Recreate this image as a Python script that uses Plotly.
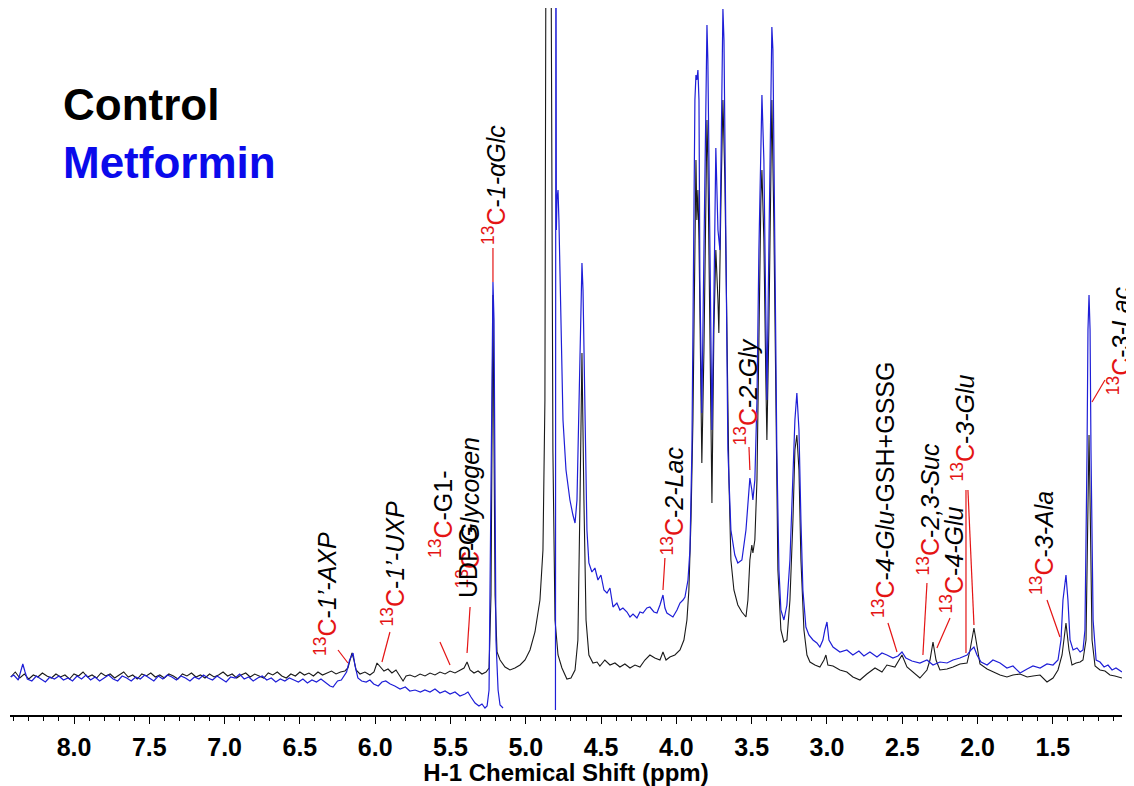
import plotly.graph_objects as go

# 1H NMR spectra, chemical shift (ppm) and intensity (a.u.)
CONTROL_PPM = [
    8.42, 8.39, 8.36, 8.33, 8.30, 8.27, 8.24, 8.21, 8.18, 8.15,
    8.12, 8.09, 8.06, 8.03, 8.00, 7.97, 7.94, 7.91, 7.88, 7.85,
    7.82, 7.79, 7.76, 7.73, 7.70, 7.67, 7.64, 7.61, 7.58, 7.55,
    7.52, 7.49, 7.46, 7.43, 7.40, 7.37, 7.34, 7.31, 7.28, 7.25,
    7.22, 7.19, 7.16, 7.13, 7.10, 7.07, 7.04, 7.01, 6.98, 6.95,
    6.92, 6.89, 6.86, 6.83, 6.80, 6.77, 6.74, 6.71, 6.68, 6.65,
    6.62, 6.59, 6.56, 6.53, 6.50, 6.47, 6.44, 6.41, 6.38, 6.35,
    6.32, 6.29, 6.26, 6.23,
    6.201, 6.181, 6.167, 6.154, 6.141, 6.127, 6.101, 6.068, 6.035, 6.008,
    5.988, 5.968, 5.942, 5.915, 5.889, 5.862, 5.835, 5.815, 5.795, 5.769,
    5.736, 5.702, 5.669, 5.636, 5.603, 5.570, 5.536, 5.503, 5.470, 5.437,
    5.410, 5.390, 5.370, 5.344, 5.317, 5.291, 5.264, 5.244, 5.231, 5.218,
    5.204, 5.191, 5.171, 5.138, 5.105, 5.072, 5.038, 5.005, 4.972, 4.939,
    4.906, 4.886, 4.873, 4.866, 4.833, 4.820, 4.806, 4.786, 4.760, 4.727,
    4.700, 4.673, 4.654, 4.640, 4.627, 4.614, 4.600, 4.581, 4.554, 4.527,
    4.508, 4.475, 4.441, 4.408, 4.375, 4.342, 4.308, 4.275, 4.242, 4.209,
    4.176, 4.143, 4.109, 4.089, 4.069, 4.043, 4.010, 3.976, 3.950, 3.930,
    3.917, 3.903, 3.890, 3.877, 3.870, 3.864, 3.857, 3.850, 3.837, 3.831,
    3.817, 3.804, 3.797, 3.791, 3.778, 3.764, 3.751, 3.738, 3.724, 3.718,
    3.704, 3.691, 3.678, 3.665, 3.651, 3.638, 3.618, 3.592, 3.565, 3.538,
    3.525, 3.512, 3.499, 3.492, 3.479, 3.465, 3.452, 3.439, 3.432, 3.419,
    3.406, 3.399, 3.386, 3.373, 3.366, 3.353, 3.339, 3.326, 3.306, 3.286,
    3.266, 3.246, 3.226, 3.213, 3.200, 3.186, 3.173, 3.153, 3.133, 3.113,
    3.080, 3.047, 3.020, 3.007, 2.994, 2.960, 2.914, 2.868, 2.828, 2.781,
    2.735, 2.681, 2.635, 2.602, 2.549, 2.502, 2.469, 2.429, 2.383, 2.336,
    2.316, 2.296, 2.276, 2.250, 2.203, 2.163, 2.117, 2.070, 2.050, 2.024,
    2.004, 1.984, 1.937, 1.898, 1.851, 1.805, 1.765, 1.718, 1.671, 1.632,
    1.585, 1.539, 1.499, 1.466, 1.439, 1.413, 1.393, 1.373, 1.346, 1.319,
    1.300, 1.280, 1.267, 1.260, 1.253, 1.240, 1.220, 1.187, 1.154, 1.121,
    1.088, 1.041,
]
CONTROL_INT = [
    38, 43, 37, 41, 36, 40, 38, 42, 39, 37,
    41, 38, 40, 36, 41, 39, 43, 38, 40, 37,
    42, 39, 41, 37, 40, 43, 38, 40, 36, 41,
    39, 42, 38, 40, 37, 41, 39, 36, 41, 39,
    42, 38, 40, 37, 41, 38, 40, 43, 39, 41,
    37, 40, 42, 38, 41, 39, 37, 42, 40, 43,
    39, 37, 41, 39, 43, 40, 42, 39, 43, 40,
    42, 44, 41, 43,
    44, 47, 55, 62, 55, 45, 41, 43, 40, 43,
    52, 48, 44, 46, 42, 45, 38, 34, 39, 40,
    38, 41, 39, 42, 40, 43, 41, 44, 42, 45,
    47, 53, 45, 42, 44, 41, 43, 47, 120, 420,
    120, 63, 55, 48, 45, 47, 50, 55, 65, 83,
    115, 165, 315, 800, 800, 265, 95, 60, 47, 36,
    37, 45, 75, 215, 362, 215, 95, 60, 52, 53,
    49, 55, 50, 52, 48, 51, 47, 50, 48, 55,
    60, 57, 55, 63, 55, 58, 60, 65, 75, 95,
    125, 195, 295, 465, 555, 495, 525, 475, 335, 252,
    365, 555, 595, 555, 385, 212, 385, 465, 415, 382,
    515, 615, 535, 365, 235, 155, 125, 110, 103, 98,
    115, 155, 170, 162, 175, 235, 385, 515, 545, 475,
    335, 275, 385, 565, 615, 495, 285, 145, 85, 73,
    75, 115, 195, 265, 280, 245, 155, 85, 60, 53,
    50, 48, 55, 60, 50, 49, 45, 43, 38, 35,
    41, 47, 43, 50, 48, 60, 48, 43, 37, 45,
    55, 73, 55, 45, 46, 48, 51, 52, 65, 87,
    67, 51, 46, 43, 40, 38, 40, 41, 38, 39,
    40, 33, 37, 45, 60, 92, 65, 50, 52, 53,
    55, 75, 215, 280, 215, 75, 49, 45, 44, 40,
    39, 37,
]

METFORMIN_PPM = [
    8.42, 8.40, 8.37, 8.355, 8.34, 8.325, 8.31, 8.28, 8.25, 8.22,
    8.19, 8.16, 8.13, 8.10, 8.07, 8.04, 8.01, 7.98, 7.95, 7.92,
    7.89, 7.86, 7.83, 7.80, 7.77, 7.74, 7.71, 7.68, 7.65, 7.62,
    7.59, 7.56, 7.53, 7.50, 7.47, 7.44, 7.41, 7.38, 7.35, 7.32,
    7.29, 7.26, 7.23, 7.20, 7.17, 7.14, 7.11, 7.08, 7.05, 7.02,
    6.99, 6.96, 6.93, 6.90, 6.87, 6.84, 6.81, 6.78, 6.75, 6.72,
    6.69, 6.66, 6.63, 6.60, 6.57, 6.54, 6.51, 6.48, 6.45, 6.42,
    6.39, 6.36, 6.33, 6.30, 6.28, 6.25, 6.225, 6.19, 6.17, 6.147,
    6.135, 6.115, 6.09, 6.06, 6.035, 6.01, 5.98, 5.955, 5.93, 5.90,
    5.87, 5.835, 5.80, 5.77, 5.735, 5.70, 5.67, 5.636, 5.603, 5.57,
    5.536, 5.503, 5.47, 5.437, 5.404, 5.384, 5.364, 5.337, 5.311, 5.291,
    5.271, 5.257, 5.244, 5.238, 5.231, 5.224, 5.218, 5.211, 5.204, 5.198,
    5.184, 5.171, 5.151, 5.14,
    4.803, 4.800, 4.797, 4.793, 4.786, 4.780, 4.767, 4.753, 4.733, 4.707,
    4.687, 4.673, 4.660, 4.647, 4.634, 4.627, 4.620, 4.607, 4.594, 4.581,
    4.561, 4.541, 4.521, 4.501, 4.481, 4.461, 4.441, 4.421, 4.395, 4.375,
    4.355, 4.328, 4.308, 4.288, 4.262, 4.242, 4.222, 4.196, 4.176, 4.149,
    4.129, 4.109, 4.089, 4.076, 4.063, 4.043, 4.023, 3.996, 3.976, 3.956,
    3.943, 3.923, 3.910, 3.897, 3.884, 3.877, 3.870, 3.864, 3.857, 3.850,
    3.844, 3.831, 3.817, 3.804, 3.797, 3.791, 3.778, 3.764, 3.751, 3.738,
    3.724, 3.711, 3.697, 3.691, 3.684, 3.671, 3.658, 3.638, 3.612, 3.592,
    3.565, 3.538, 3.518, 3.512, 3.499, 3.492, 3.479, 3.465, 3.452, 3.439,
    3.432, 3.419, 3.406, 3.399, 3.386, 3.373, 3.366, 3.359, 3.346, 3.333,
    3.319, 3.306, 3.286, 3.266, 3.246, 3.226, 3.213, 3.200, 3.186, 3.173,
    3.160, 3.140, 3.120, 3.093, 3.067, 3.047, 3.027, 3.014, 3.000, 2.987,
    2.960, 2.914, 2.868, 2.828, 2.788, 2.755, 2.715, 2.668, 2.635, 2.602,
    2.562, 2.529, 2.502, 2.476, 2.436, 2.383, 2.336, 2.296, 2.250, 2.203,
    2.163, 2.117, 2.070, 2.044, 2.024, 2.004, 1.977, 1.937, 1.898, 1.851,
    1.805, 1.765, 1.718, 1.671, 1.632, 1.585, 1.539, 1.499, 1.466, 1.446,
    1.433, 1.413, 1.400, 1.386, 1.366, 1.340, 1.319, 1.300, 1.287, 1.273,
    1.267, 1.260, 1.253, 1.247, 1.233, 1.213, 1.187, 1.160, 1.134, 1.107,
    1.081, 1.041,
]
METFORMIN_INT = [
    38, 40, 35, 43, 51, 43, 36, 34, 39, 36,
    33, 38, 36, 39, 35, 37, 34, 39, 36, 40,
    35, 38, 34, 37, 40, 36, 34, 39, 37, 34,
    38, 36, 40, 37, 34, 39, 36, 40, 38, 35,
    39, 37, 34, 38, 36, 40, 37, 35, 39, 36,
    33, 38, 37, 41, 36, 38, 34, 37, 39, 35,
    37, 33, 36, 34, 37, 35, 33, 36, 32, 35,
    33, 36, 32, 29, 28, 34, 35, 43, 55, 62,
    50, 37, 34, 33, 35, 31, 29, 33, 34, 31,
    29, 26, 28, 24, 25, 23, 25, 23, 26, 22,
    24, 21, 23, 19, 21, 23, 18, 12, 9, 11,
    7, 9, 25, 115, 265, 395, 433, 395, 215, 75,
    25, 10, 7, None,
    5, 900, 485, 515, 525, 495, 385, 295, 245, 215,
    200, 192, 215, 315, 425, 452, 425, 295, 185, 152,
    143, 147, 135, 140, 125, 122, 127, 108, 112, 105,
    107, 103, 98, 101, 97, 103, 102, 107, 108, 103,
    102, 110, 120, 107, 102, 100, 98, 105, 112, 115,
    118, 135, 165, 265, 515, 615, 640, 635, 645, 615,
    435, 302, 465, 655, 690, 655, 465, 285, 415, 567,
    485, 465, 635, 706, 675, 465, 265, 185, 160, 152,
    155, 185, 225, 237, 225, 215, 235, 315, 465, 595,
    620, 555, 385, 315, 465, 655, 688, 665, 465, 265,
    145, 105, 95, 110, 155, 245, 295, 322, 285, 195,
    125, 88, 80, 75, 72, 68, 75, 85, 93, 75,
    68, 63, 65, 60, 64, 59, 63, 58, 62, 60,
    57, 59, 63, 57, 54, 52, 55, 50, 53, 52,
    55, 57, 60, 65, 68, 60, 53, 50, 55, 52,
    47, 49, 42, 46, 49, 47, 51, 50, 55, 75,
    115, 140, 115, 75, 65, 67, 63, 65, 85, 265,
    385, 420, 385, 265, 95, 55, 53, 48, 50, 45,
    47, 43,
]

assert len(CONTROL_PPM) == len(CONTROL_INT)
assert len(METFORMIN_PPM) == len(METFORMIN_INT)

RED = "rgb(228,20,20)"
C13 = f"<span style='color:{RED}'><sup>13</sup>C</span>"

# peak labels: text, ppm of label centre, intensity at label foot
LABEL_TEXT = [
    C13 + "-<i>1’-AXP</i>",
    C13 + "-<i>1’-UXP</i>",
    C13 + "-G1-",
    C13 + "-<i>Glycogen</i>",
    "UDPG",
    C13 + "-<i>1-αGlc</i>",
    C13 + "-<i>2-Lac</i>",
    C13 + "-<i>2-Gly</i>",
    C13 + "-<i>4-Glu</i>-GSH+GSSG",
    C13 + "-<i>2,3-Suc</i>",
    C13 + "-<i>4-Glu</i>",
    C13 + "-<i>3-Glu</i>",
    C13 + "-<i>3-Ala</i>",
    C13 + "-<i>3-Lac</i>",
]
LABEL_PPM = [6.327, 5.882, 5.563, 5.384, 5.384, 5.211, 4.029, 3.538,
             2.622, 2.329, 2.170, 2.097, 1.572, 1.062]
LABEL_FOOT = [57, 87, 155, 125, 115, 468, 157, 268, 95, 137, 100, 232, 118, 318]

# red leader lines from label to peak: (ppm, int) -> (ppm, int)
LEADER_FROM_PPM = [6.247, 5.902, 5.570, 5.370, 5.218, 4.076, 3.518,
                   2.595, 2.336, 2.183, 2.077, 2.064, 1.539, 1.154]
LEADER_FROM_INT = [65, 83, 73, 108, 467, 157, 268, 92, 132, 97, 225, 225, 115, 335]
LEADER_TO_PPM = [6.181, 5.955, 5.503, 5.390, 5.218, 4.089, 3.512,
                 2.535, 2.363, 2.270, 2.077, 2.024, 1.453, 1.240]
LEADER_TO_INT = [52, 53, 50, 62, 433, 125, 245, 63, 60, 67, 62, 90, 78, 313]

FONT = "Liberation Sans, Arial, sans-serif"


def main():
    fig = go.Figure()

    fig.add_trace(go.Scatter(
        x=CONTROL_PPM, y=CONTROL_INT, mode="lines", name="Control",
        line=dict(color="rgb(25,25,25)", width=1.1),
    ))
    fig.add_trace(go.Scatter(
        x=METFORMIN_PPM, y=METFORMIN_INT, mode="lines", name="Metformin",
        line=dict(color="rgb(30,30,215)", width=1.2), connectgaps=False,
    ))

    for text, px, foot in zip(LABEL_TEXT, LABEL_PPM, LABEL_FOOT):
        fig.add_annotation(
            x=px, y=foot, text=text, textangle=-90, showarrow=False,
            xanchor="center", yanchor="bottom",
            font=dict(family=FONT, size=25, color="black"),
        )

    for x0, y0, x1, y1 in zip(LEADER_FROM_PPM, LEADER_FROM_INT,
                              LEADER_TO_PPM, LEADER_TO_INT):
        fig.add_shape(type="line", x0=x0, y0=y0, x1=x1, y1=y1,
                      xref="x", yref="y", line=dict(color=RED, width=1.2))

    fig.add_annotation(x=0.046, y=0.864, xref="paper", yref="paper",
                       text="Control", showarrow=False,
                       xanchor="left", yanchor="middle",
                       font=dict(family=FONT, size=44, color="black", weight="bold"))
    fig.add_annotation(x=0.046, y=0.782, xref="paper", yref="paper",
                       text="Metformin", showarrow=False,
                       xanchor="left", yanchor="middle",
                       font=dict(family=FONT, size=44, color="rgb(10,10,235)", weight="bold"))

    # page body adds an 8px offset, so the figure is 8px smaller than the window
    fig.update_layout(
        width=1126, height=778,
        margin=dict(l=2, r=12, t=0, b=71),
        plot_bgcolor="white", paper_bgcolor="white",
        showlegend=False,
        xaxis=dict(
            range=[8.425, 1.041],
            showgrid=False, zeroline=False,
            showline=True, linecolor="black", linewidth=1.5,
            ticks="outside", ticklen=7, tickwidth=1.3, tickcolor="black",
            tick0=0, dtick=0.5, tickformat=".1f",
            ticklabelstandoff=2,
            tickfont=dict(family=FONT, size=25, color="black", weight="bold"),
            minor=dict(ticks="outside", ticklen=4, tickwidth=1, tickcolor="black",
                       tick0=0, dtick=0.1, showgrid=False),
            title=dict(text="H-1 Chemical Shift (ppm)", standoff=0,
                       font=dict(family=FONT, size=24, color="black", weight="bold")),
            automargin=False,
        ),
        yaxis=dict(range=[0, 707], visible=False, showgrid=False, zeroline=False),
    )

    fig.write_html("out.html")


if __name__ == "__main__":
    main()
